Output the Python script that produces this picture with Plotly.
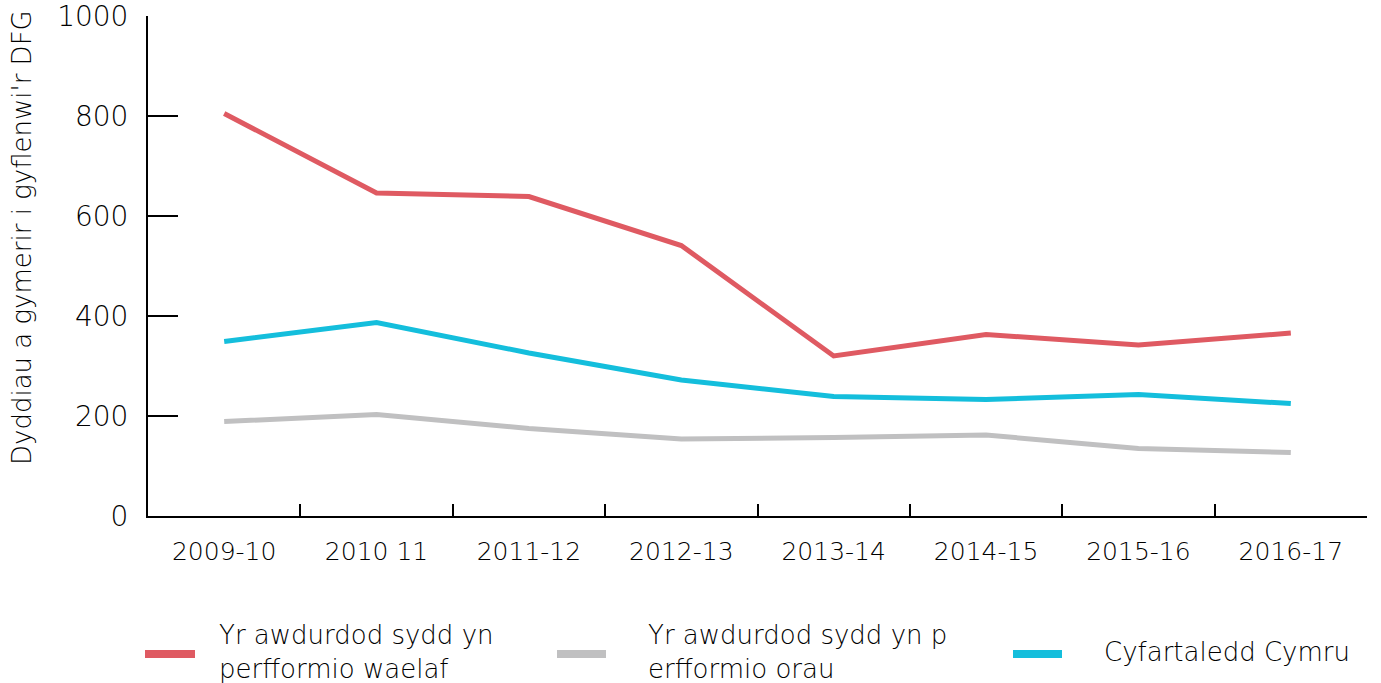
import plotly.graph_objects as go

categories = ["2009-10", "2010 11", "2011-12", "2012-13", "2013-14", "2014-15", "2015-16", "2016-17"]
worst = [805, 646, 639, 541, 320, 363, 342, 366]
best = [189, 203, 175, 154, 157, 162, 135, 127]
wales = [349, 387, 326, 272, 239, 233, 243, 225]
series_names = ["Yr awdurdod sydd yn<br>perfformio waelaf", "Yr awdurdod sydd yn p<br>erfformio orau", "Cyfartaledd Cymru"]
colors = ["#DF5A62", "#C0C0C1", "#14BEDC"]
y_title = "Dyddiau a gymerir i gyflenwi'r DFG"

W, H = 1381, 683
PLOT_L, PLOT_R, PLOT_T, PLOT_B = 148, 1367, 16, 516  # screen px
L, T, R, B = PLOT_L, PLOT_T, W - PLOT_R, H - PLOT_B
PW, PH = PLOT_R - PLOT_L, PLOT_B - PLOT_T


def px(x):
    return (x - PLOT_L) / PW


def py(y):
    return (PLOT_B - y) / PH


FONT = "DejaVu Sans"
WT = 300
TXT = "#000000"
fig = go.Figure()
for vals, name, col in zip([worst, best, wales], series_names, colors):
    fig.add_trace(go.Scatter(x=categories, y=vals, mode="lines", name=name,
                             line=dict(color=col, width=5), showlegend=False))

fig.update_layout(
    width=W, height=H,
    margin=dict(l=L, r=R, t=T, b=B, autoexpand=False),
    plot_bgcolor="white", paper_bgcolor="white",
    font=dict(family=FONT, size=25, color=TXT, weight=WT),
    xaxis=dict(type="category", range=[-0.5, 7.5], showgrid=False, showline=True,
               linecolor="black", linewidth=2, ticks="inside", ticklen=12, tickwidth=2,
               tickcolor="black", tickson="boundaries", ticklabelstandoff=12,
               automargin=False,
               tickfont=dict(size=25, family=FONT, weight=WT, color=TXT)),
    yaxis=dict(range=[0, 1000], tickvals=[0, 200, 400, 600, 800, 1000], showgrid=False,
               zeroline=False, showline=True, linecolor="black", linewidth=2,
               ticks="inside", ticklen=30, tickwidth=2, tickcolor="black",
               ticklabelstandoff=12, automargin=False, ticklabeloverflow="allow",
               tickfont=dict(size=28, family=FONT, weight=WT, color=TXT)),
)

fig.add_annotation(text=y_title, textangle=-90, xref="paper", yref="paper",
                   x=px(22), y=py(238), xanchor="center", yanchor="middle",
                   showarrow=False, font=dict(size=26, family=FONT, weight=WT, color=TXT))

leg_sym = [(145, 195), (557, 606), (1013, 1062)]
leg_txt = [217, 646, 1102]
ly = 654
for (x0, x1), tx, name, col in zip(leg_sym, leg_txt, series_names, colors):
    fig.add_shape(type="line", xref="paper", yref="paper", x0=px(x0), x1=px(x1),
                  y0=py(ly), y1=py(ly), line=dict(color=col, width=8))
    fig.add_annotation(text=name, xref="paper", yref="paper", x=px(tx), y=py(ly - 2),
                       xanchor="left", yanchor="middle", align="left", showarrow=False,
                       font=dict(size=26, family=FONT, weight=WT, color=TXT))

fig.write_html("out.html", config={"displayModeBar": False},
               post_script="document.body.style.margin='0';document.body.style.overflow='hidden';")
